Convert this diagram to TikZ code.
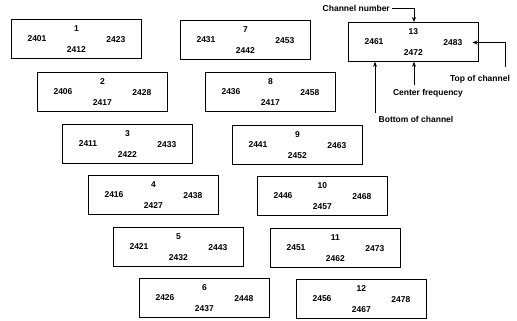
\documentclass[tikz,border=0pt]{standalone}
\usepackage{fontspec}
\setmainfont{Liberation Sans}
\usetikzlibrary{arrows.meta}
\tikzset{
  chanbox/.style={draw=black,line width=0.8pt,rectangle,minimum width=130pt,minimum height=39pt,inner sep=0pt},
  lbl/.style={inner sep=0pt,font=\fontsize{8.5}{10}\selectfont\bfseries},
  note/.style={inner sep=0pt,font=\fontsize{8.5}{10}\selectfont\bfseries},
  pointer/.style={line width=0.7pt,-{Stealth[length=5pt,width=4pt]}}
}
\newcommand\chbox[7]{%
  \node[chanbox,anchor=north west] (#1) at (#2,#3) {};
  \node[lbl] (#1n) at ([yshift=-9.5pt]#1.north) {#4};
  \node[lbl] (#1l) at ([xshift=26pt,yshift=-20pt]#1.north west) {#5};
  \node[lbl] (#1r) at ([xshift=-26pt,yshift=-20.5pt]#1.north east) {#7};
  \node[lbl] (#1c) at ([yshift=-30.5pt]#1.north) {#6};
}
\begin{document}
\begin{tikzpicture}[x=1pt,y=-1pt]
\useasboundingbox (0,0) rectangle (517,321);
\chbox{bA}{11}{19}{1}{2401}{2412}{2423}
\chbox{bB}{37}{72}{2}{2406}{2417}{2428}
\chbox{bC}{62}{124}{3}{2411}{2422}{2433}
\chbox{bD}{88}{175}{4}{2416}{2427}{2438}
\chbox{bE}{113}{227}{5}{2421}{2432}{2443}
\chbox{bF}{139}{278}{6}{2426}{2437}{2448}
\chbox{bG}{180}{20}{7}{2431}{2442}{2453}
\chbox{bH}{205}{72}{8}{2436}{2417}{2458}
\chbox{bI}{232}{125}{9}{2441}{2452}{2463}
\chbox{bJ}{257}{176}{10}{2446}{2457}{2468}
\chbox{bK}{270}{228}{11}{2451}{2462}{2473}
\chbox{bL}{296}{279}{12}{2456}{2467}{2478}
\chbox{bM}{348}{22}{13}{2461}{2472}{2483}
% annotations
\node[note,anchor=east] (tnum) at (390,8) {Channel number};
\node[note] (ttop) at (480,79) {Top of channel};
\node[note] (tcen) at (428,93) {Center frequency};
\node[note] (tbot) at (416,119) {Bottom of channel};
\coordinate (cnum) at (414,8);
\coordinate (ctop) at (505,67);
\coordinate (ccen) at (414,85);
\coordinate (cbot) at (375,113);
\draw[pointer] ([xshift=2pt]tnum.east) -- (cnum) -- (cnum |- bM.north);
\draw[pointer] (ctop) |- ([xshift=10pt]bMr.east);
\draw[pointer] (ccen) -- (ccen |- bM.south);
\draw[pointer] (cbot) -- (cbot |- bM.south);
\end{tikzpicture}
\end{document}
